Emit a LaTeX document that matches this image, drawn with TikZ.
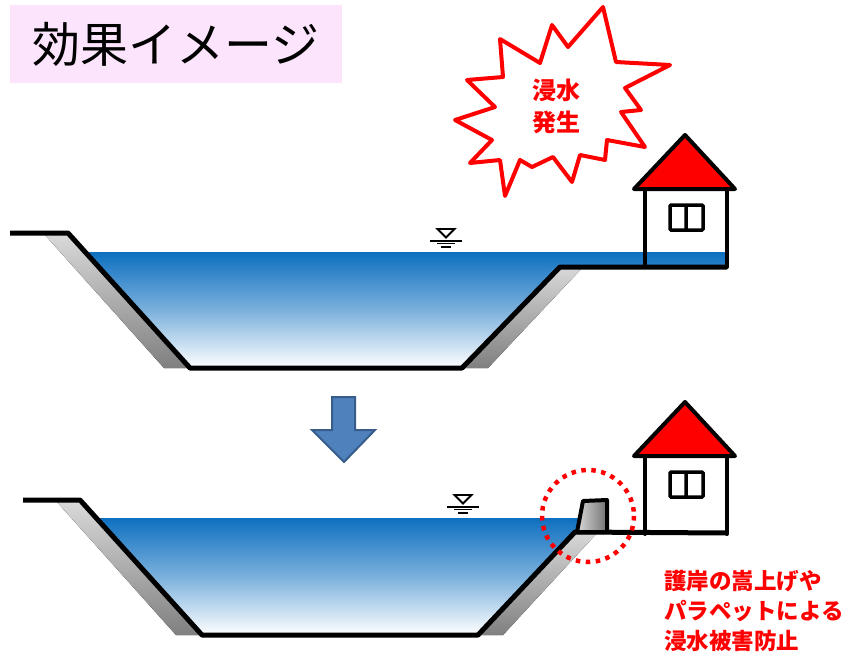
\documentclass[tikz,border=0pt]{standalone}
\usepackage{fontspec}
\newfontfamily\jp{Noto Sans CJK JP}
\usepackage{xcolor}
\usetikzlibrary{calc}

\definecolor{titlepink}{RGB}{253,228,253}
\definecolor{riverblue}{RGB}{14,112,192}
\definecolor{arrowblue}{RGB}{79,129,189}
\definecolor{arrowedge}{RGB}{56,93,138}

\begin{document}
\begin{tikzpicture}[x=1pt, y=-1pt,
        bank/.style={line width=5pt, line join=round},
        slopeshade/.style={top color=black!15, bottom color=black!50},
        water/.style={top color=riverblue, bottom color=white, middle color=riverblue!55},
        wall/.style={line width=4pt, line join=round, line cap=round},
        redtext/.style={text=red, inner sep=0pt, font=\jp\bfseries\fontsize{22.5}{30}\selectfont}]
    \useasboundingbox (0,0) rectangle (854,656);

    % title
    \node[fill=titlepink, minimum width=332pt, minimum height=78pt,
          font=\jp\fontsize{48}{52}\selectfont] (title) at (176,44) {効果イメージ};

    % river before: water reaches the house
    \fill[water] (85.2,252) -- (190,368) -- (462,368) -- (560,267) -- (727,267) -- (727,252) -- cycle;
    \fill[slopeshade] (45,235) -- (68,235) -- (190,368) -- (164,368) -- cycle;
    \fill[slopeshade] (462,368) -- (560,267) -- (583,267) -- (488,368) -- cycle;
    \draw[bank] (10,233) -- (68,233) -- (190,368) -- (462,368) -- (560,267) -- (727,267);

    % river after: raised bank with parapet
    \fill[water] (96.3,518) -- (202,635) -- (478,635) -- (575,532) -- (579.7,518) -- cycle;
    \fill[slopeshade] (57,502) -- (80,502) -- (202,635) -- (176,635) -- cycle;
    \fill[slopeshade] (478,635) -- (575,532) -- (598,532) -- (503,635) -- cycle;
    \draw[bank] (23,500) -- (80,500) -- (202,635) -- (478,635) -- (575,532) -- (727,533);
    \draw[line width=4pt, line join=round, left color=black!15, right color=black!55]
        (577,532) -- (583,501) -- (607,500) -- (607,532) -- cycle;

    % houses
    \foreach \dy in {0,267} {
        \begin{scope}[shift={(0,\dy)}]
            \draw[wall] (645,188) -- (645,267) (727,188) -- (727,267);
            \draw[wall, fill=red] (634,189) -- (685,135) -- (735,189) -- cycle;
            \draw[line width=3.5pt, rounded corners=1pt] (670,205) rectangle (703,230) (686,205) -- (686,230);
        \end{scope}
    }

    % water level marks
    \foreach \wx/\wy in {446/229, 463/495} {
        \draw[line width=1.8pt, line join=miter] (\wx-8.5,\wy) -- (\wx+8.5,\wy) -- (\wx,\wy+8.5) -- cycle;
        \draw[line width=1.5pt] (\wx-16,\wy+12) -- (\wx+16,\wy+12);
        \draw[line width=1.5pt] (\wx-9,\wy+14.5) -- (\wx+9,\wy+14.5);
        \draw[line width=2pt] (\wx-5,\wy+17.5) -- (\wx+5,\wy+17.5);
    }

    % down arrow
    \draw[arrowedge, fill=arrowblue, line width=2pt]
        (332,397) -- (355,397) -- (355,430) -- (375,430) -- (344,462) -- (312,430) -- (332,430) -- cycle;

    % circle round the parapet
    \draw[red, line width=4.5pt, dash pattern=on 4.5pt off 5.5pt] (588,516) circle [radius=46];

    % burst
    \draw[red, line width=4pt, line join=round, fill=white]
        (603,7) -- (616,62) -- (670,65) -- (625,88) -- (641,110) -- (621,112) -- (645,147)
        -- (607,140) -- (605,160) -- (580,155) -- (572,182) -- (553,157) -- (532,167)
        -- (520,160) -- (505,196) -- (500,160) -- (470,163) -- (492,140) -- (455,120)
        -- (495,107) -- (467,80) -- (503,77) -- (500,39) -- (540,63) -- (552,25)
        -- (568,47) -- cycle;
    \node[redtext, align=center, font=\jp\bfseries\fontsize{24}{32}\selectfont] (flood) at (556,106) {浸水\\発生};

    % note
    \node[redtext, align=left, anchor=north west] (note) at (664,570)
        {護岸の嵩上げや\\パラペットによる\\浸水被害防止};
\end{tikzpicture}
\end{document}
